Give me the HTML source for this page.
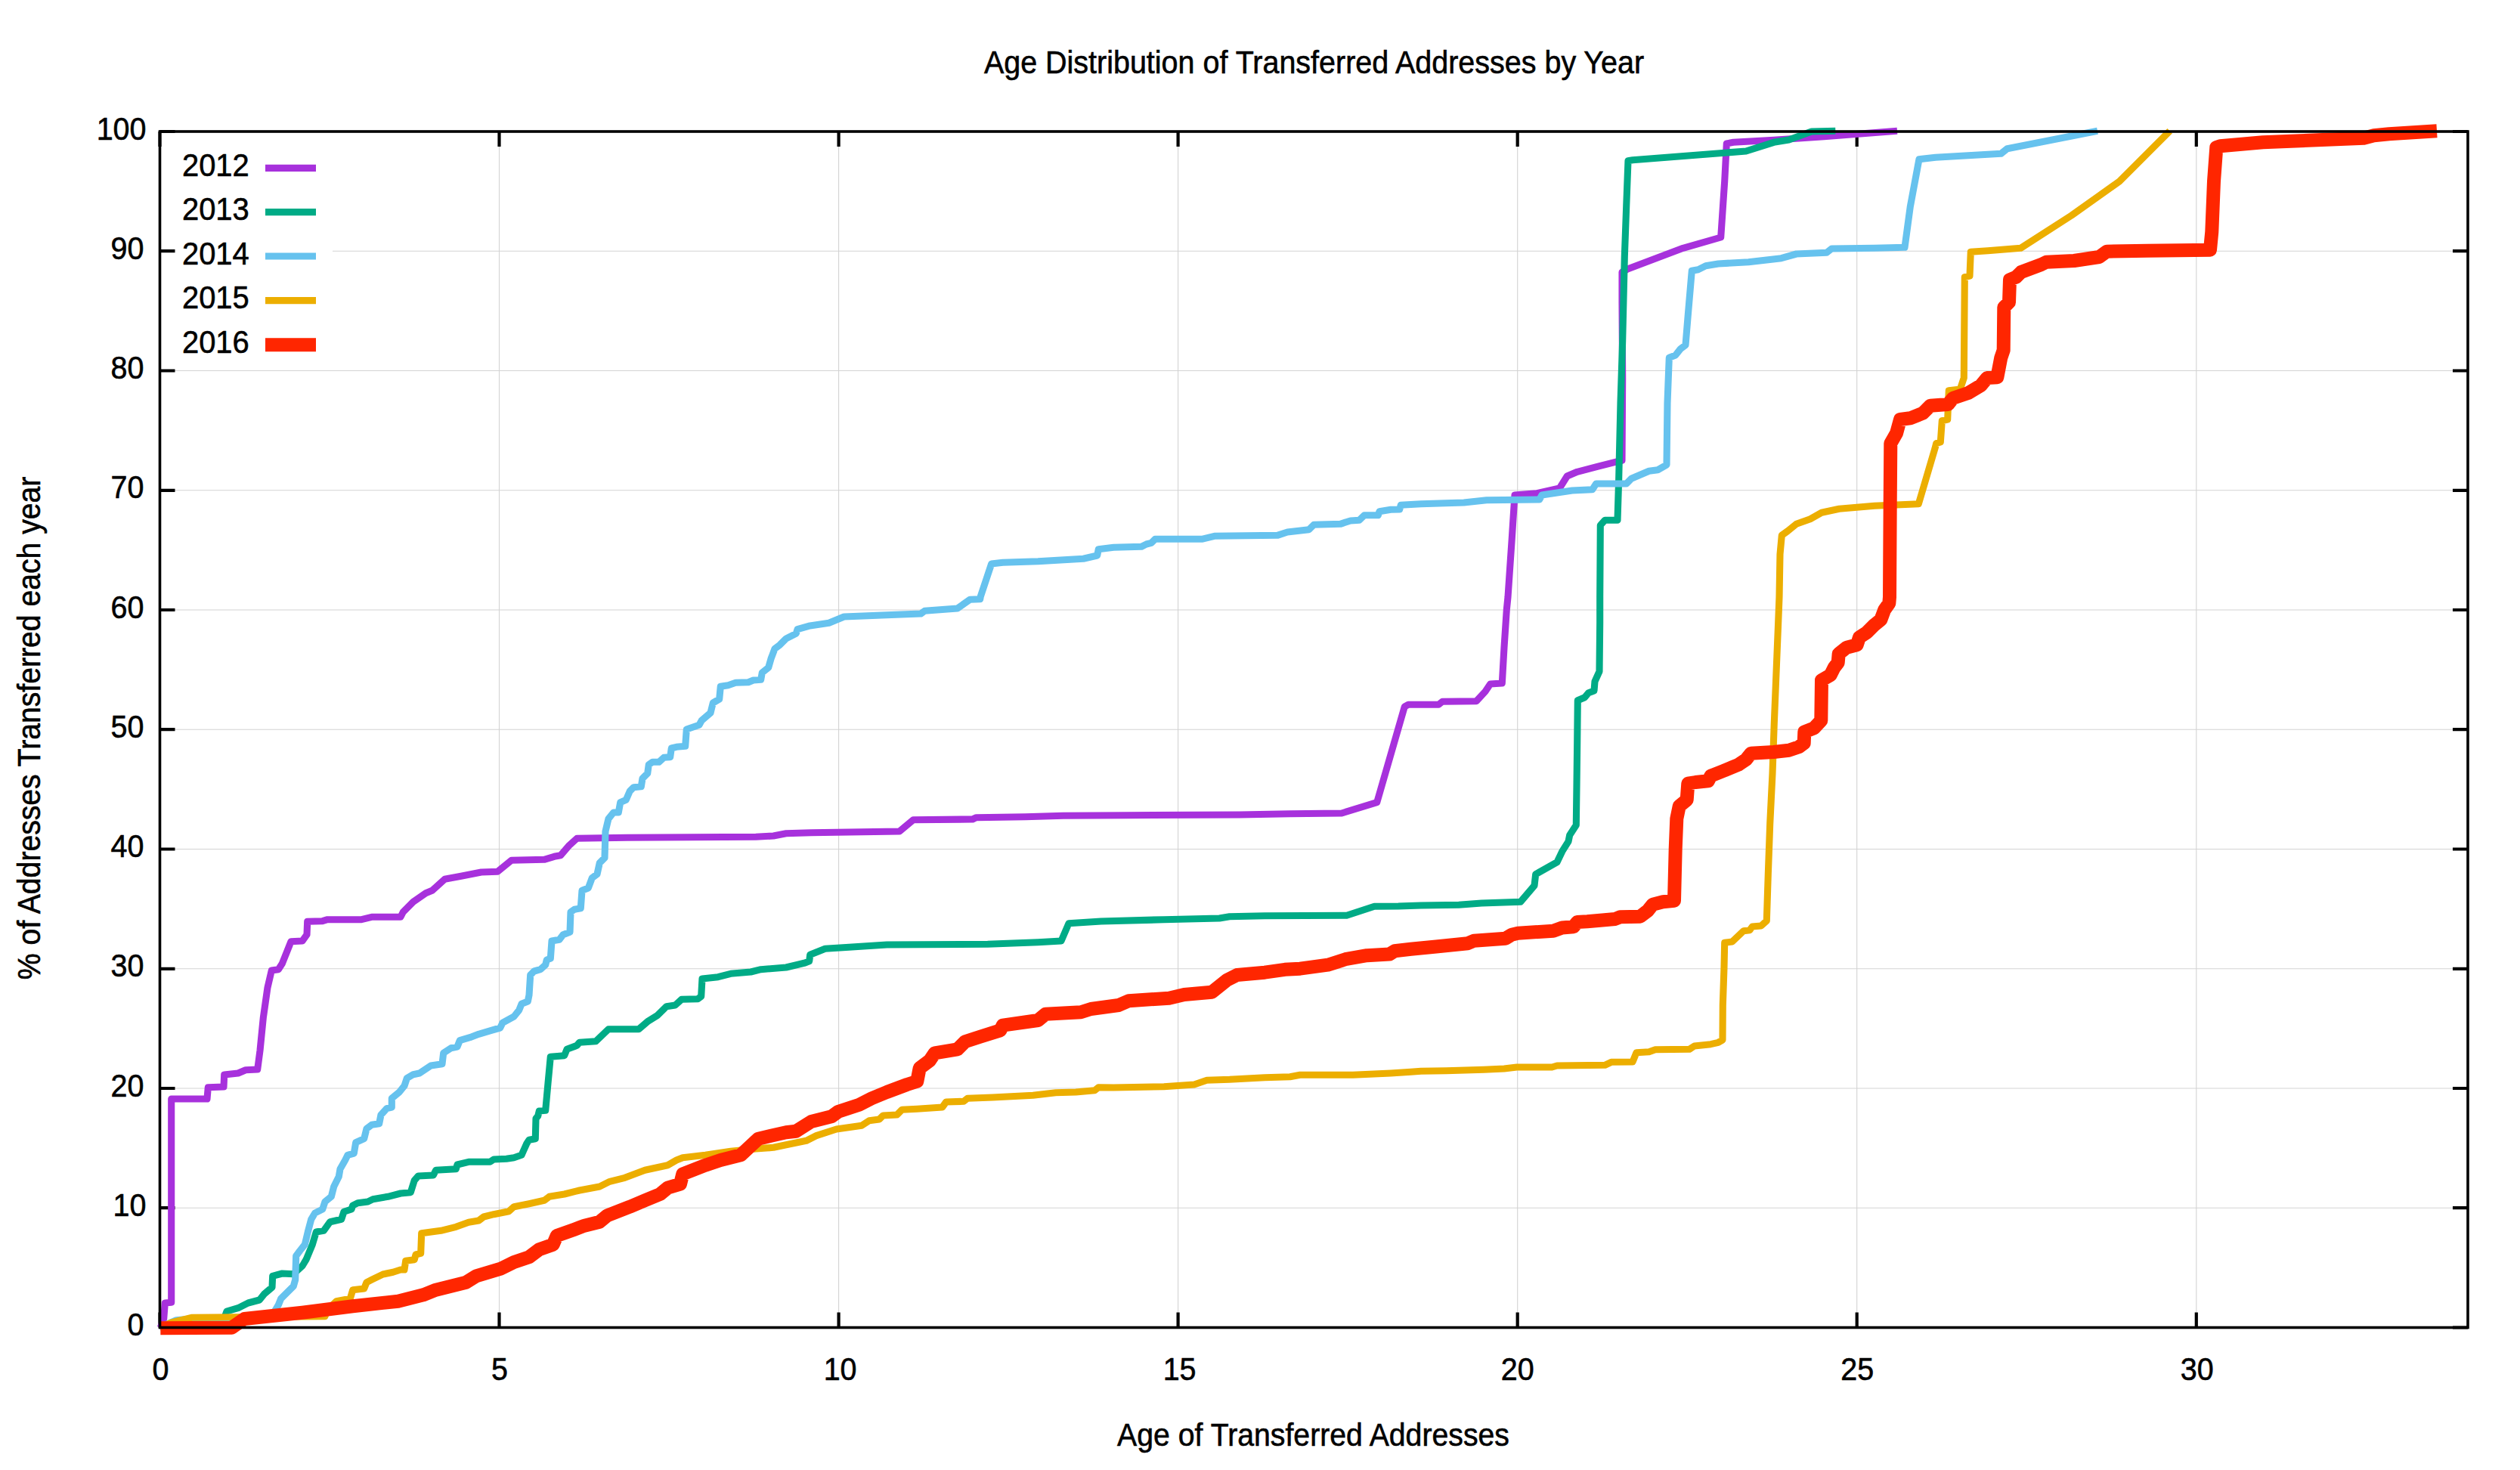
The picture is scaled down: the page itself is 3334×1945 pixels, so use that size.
<!DOCTYPE html><html><head><meta charset="utf-8"><title>Age Distribution of Transferred Addresses by Year</title>
<style>html,body{margin:0;padding:0;background:#fff}svg{display:block}text{font-family:"Liberation Sans",sans-serif;font-size:42px;fill:#000;stroke:#000;stroke-width:0.6px}</style></head><body>
<svg width="3334" height="1945" viewBox="0 0 3334 1945">
<rect width="3334" height="1945" fill="#fff"/>
<path d="M660.5 174.0V1756.5M1109.6 174.0V1756.5M1558.6 174.0V1756.5M2007.7 174.0V1756.5M2456.7 174.0V1756.5M2905.8 174.0V1756.5M211.5 1598.2H3265.0M211.5 1440.0H3265.0M211.5 1281.8H3265.0M211.5 1123.5H3265.0M211.5 965.2H3265.0M211.5 807.0H3265.0M211.5 648.8H3265.0M211.5 490.5H3265.0M211.5 332.2H3265.0" stroke="#d3d3d3" stroke-width="1.1" fill="none"/>
<rect x="211.5" y="174.0" width="228.5" height="306" fill="#fff"/>
<path d="M211.5 1756.5v-20M211.5 174.0v20M660.5 1756.5v-20M660.5 174.0v20M1109.6 1756.5v-20M1109.6 174.0v20M1558.6 1756.5v-20M1558.6 174.0v20M2007.7 1756.5v-20M2007.7 174.0v20M2456.7 1756.5v-20M2456.7 174.0v20M2905.8 1756.5v-20M2905.8 174.0v20M211.5 1756.5h20M3265.0 1756.5h-20M211.5 1598.2h20M3265.0 1598.2h-20M211.5 1440.0h20M3265.0 1440.0h-20M211.5 1281.8h20M3265.0 1281.8h-20M211.5 1123.5h20M3265.0 1123.5h-20M211.5 965.2h20M3265.0 965.2h-20M211.5 807.0h20M3265.0 807.0h-20M211.5 648.8h20M3265.0 648.8h-20M211.5 490.5h20M3265.0 490.5h-20M211.5 332.2h20M3265.0 332.2h-20M211.5 174.0h20M3265.0 174.0h-20" stroke="#000" stroke-width="4.2" fill="none"/>
<path d="M212.3 1756.7 L216.7 1745.0 L218.3 1724.0 L226.7 1723.3 L226.7 1454.0 L274.0 1454.0 L275.3 1438.7 L296.0 1438.0 L296.7 1422.0 L315.0 1420.0 L325.0 1415.7 L340.7 1415.0 L344.0 1390.0 L348.3 1346.7 L354.0 1306.7 L359.3 1284.0 L368.3 1282.7 L373.3 1275.0 L380.0 1258.3 L385.0 1245.7 L400.0 1245.0 L406.0 1236.7 L406.7 1219.3 L426.7 1218.7 L433.3 1216.7 L478.3 1216.7 L491.7 1213.3 L530.0 1213.3 L533.3 1206.7 L546.7 1193.3 L563.3 1181.7 L571.7 1178.3 L588.3 1163.3 L610.0 1159.3 L636.7 1154.0 L658.3 1153.3 L676.7 1138.3 L720.0 1137.3 L733.3 1133.3 L741.7 1131.7 L753.3 1118.3 L763.3 1109.3 L830.0 1108.3 L1000.0 1107.3 L1023.3 1106.0 L1040.0 1102.7 L1073.3 1101.7 L1123.3 1101.0 L1190.0 1100.0 L1208.3 1084.7 L1286.7 1084.0 L1291.7 1081.7 L1356.7 1080.7 L1406.7 1079.3 L1490.0 1078.7 L1640.0 1078.0 L1706.7 1076.7 L1775.0 1076.0 L1821.7 1061.7 L1858.3 935.0 L1863.3 932.3 L1880.0 932.3 L1903.3 932.3 L1908.3 928.3 L1953.3 927.7 L1965.0 915.0 L1971.7 905.0 L1987.3 904.0 L1990.0 856.7 L1993.3 806.7 L1995.0 790.0 L2000.0 716.7 L2004.0 655.0 L2033.3 652.7 L2063.3 646.0 L2073.3 630.0 L2086.7 624.3 L2113.3 617.3 L2140.0 610.7 L2146.0 609.3 L2146.7 500.0 L2146.0 400.0 L2146.0 360.0 L2153.3 356.0 L2226.7 328.3 L2276.7 314.0 L2281.7 240.0 L2284.3 190.0 L2293.3 188.3 L2346.7 185.3 L2413.3 180.7 L2510.0 173.3" stroke="#a731dc" stroke-width="9.1" fill="none" stroke-linejoin="round" stroke-linecap="butt"/>
<path d="M212.3 1756.0 L293.3 1753.3 L300.0 1735.0 L315.0 1730.7 L328.3 1724.0 L343.3 1720.0 L350.0 1711.7 L360.0 1703.3 L360.7 1688.3 L373.3 1685.0 L388.3 1685.7 L400.0 1675.0 L405.0 1666.7 L413.3 1646.7 L418.3 1630.0 L428.3 1628.3 L436.7 1616.7 L451.7 1613.3 L455.0 1603.3 L465.0 1600.0 L466.7 1595.0 L473.3 1591.7 L486.7 1590.0 L493.3 1586.7 L513.3 1583.3 L530.0 1579.0 L543.3 1577.7 L548.3 1561.7 L553.3 1556.0 L573.3 1555.0 L576.7 1548.3 L603.3 1546.7 L605.0 1541.0 L620.0 1537.3 L648.3 1537.3 L653.3 1534.0 L670.0 1533.3 L680.0 1531.7 L690.0 1528.3 L696.7 1513.3 L700.0 1508.3 L708.3 1506.7 L709.0 1480.0 L711.7 1476.7 L713.3 1470.0 L721.7 1469.3 L725.0 1433.3 L728.3 1398.3 L746.7 1396.7 L750.0 1388.3 L763.3 1383.3 L766.7 1379.3 L788.3 1377.7 L805.0 1361.7 L845.0 1361.7 L856.7 1351.7 L870.0 1343.3 L881.7 1331.7 L893.3 1330.0 L901.7 1322.3 L923.3 1321.7 L927.7 1318.3 L929.0 1295.0 L950.0 1292.7 L966.7 1288.3 L993.3 1286.0 L1006.7 1282.7 L1040.0 1280.0 L1065.0 1274.0 L1070.7 1271.7 L1071.7 1263.3 L1091.7 1255.3 L1123.3 1253.3 L1173.3 1250.0 L1306.7 1249.3 L1373.3 1246.7 L1404.0 1245.0 L1414.0 1221.7 L1456.7 1219.0 L1540.0 1216.7 L1613.3 1215.0 L1626.7 1212.7 L1673.3 1211.7 L1781.7 1211.3 L1818.3 1199.3 L1850.0 1199.0 L1880.0 1198.0 L1930.0 1197.3 L1960.0 1195.0 L2011.7 1193.3 L2030.0 1171.7 L2031.7 1156.7 L2060.0 1140.7 L2066.7 1126.7 L2075.0 1113.3 L2076.7 1105.0 L2085.3 1091.7 L2086.0 1040.0 L2086.7 983.3 L2087.3 926.7 L2096.7 922.7 L2101.7 916.7 L2109.0 914.0 L2110.0 901.7 L2116.0 888.3 L2116.7 823.3 L2116.7 790.0 L2117.3 695.0 L2123.3 688.3 L2140.0 688.3 L2141.7 633.3 L2144.0 533.3 L2146.7 450.0 L2149.3 340.0 L2151.7 273.3 L2154.0 212.7 L2160.0 211.7 L2310.0 200.0 L2346.7 188.3 L2366.7 185.0 L2396.7 174.0 L2428.3 173.3" stroke="#00ab86" stroke-width="9.1" fill="none" stroke-linejoin="round" stroke-linecap="butt"/>
<path d="M212.3 1756.0 L233.3 1746.7 L250.0 1745.3 L356.7 1741.7 L363.3 1735.0 L368.3 1726.7 L371.7 1718.3 L380.0 1710.0 L388.3 1701.7 L390.7 1693.3 L391.7 1661.7 L396.7 1655.0 L403.3 1646.7 L407.3 1630.0 L411.7 1613.3 L416.7 1605.0 L426.7 1600.0 L430.0 1590.0 L438.3 1583.3 L441.7 1570.0 L448.3 1556.7 L450.0 1546.7 L456.7 1535.0 L460.0 1528.3 L468.3 1526.0 L470.7 1511.7 L481.7 1506.7 L485.0 1493.3 L491.7 1488.3 L501.7 1486.7 L504.0 1475.0 L511.7 1466.7 L518.3 1465.0 L518.3 1453.3 L528.3 1445.0 L535.0 1436.7 L538.3 1426.7 L546.7 1421.7 L555.0 1420.0 L570.0 1410.0 L585.0 1407.7 L586.7 1393.3 L596.7 1386.7 L605.0 1385.0 L608.3 1376.7 L621.7 1372.7 L633.3 1368.3 L650.0 1363.3 L661.7 1360.0 L665.0 1353.3 L680.0 1345.0 L686.7 1336.7 L690.0 1328.3 L698.3 1325.0 L700.0 1316.7 L701.7 1290.0 L706.7 1285.0 L715.0 1282.7 L721.7 1276.7 L723.3 1270.0 L728.3 1268.3 L730.0 1245.0 L740.0 1243.3 L745.0 1236.7 L754.0 1233.3 L755.0 1206.7 L760.0 1203.3 L768.3 1201.7 L770.0 1178.3 L778.3 1175.0 L783.3 1161.7 L790.0 1156.7 L793.3 1141.7 L800.0 1135.0 L801.0 1100.0 L805.0 1083.3 L811.7 1075.0 L818.3 1075.0 L820.7 1061.7 L828.3 1058.3 L833.3 1046.7 L838.3 1041.7 L848.3 1040.7 L850.0 1030.0 L856.7 1023.3 L858.3 1011.7 L863.3 1008.3 L871.7 1008.3 L878.3 1002.3 L886.7 1001.7 L888.3 990.0 L895.0 988.3 L906.7 987.3 L908.3 965.0 L925.0 959.3 L928.3 953.3 L940.0 943.3 L943.3 930.0 L951.7 925.0 L953.3 908.3 L963.3 906.7 L973.3 903.3 L990.0 902.7 L996.7 900.0 L1006.7 899.3 L1008.3 890.0 L1016.7 883.3 L1020.0 871.7 L1025.0 858.3 L1031.7 853.3 L1040.0 845.0 L1053.3 838.3 L1055.0 832.7 L1070.0 828.3 L1096.7 824.3 L1116.7 816.0 L1166.7 814.0 L1218.3 812.0 L1223.3 808.3 L1266.7 805.0 L1283.3 793.3 L1296.7 792.7 L1297.3 789.3 L1311.7 746.0 L1326.7 744.3 L1373.3 742.7 L1433.3 739.3 L1451.7 735.0 L1453.3 726.7 L1473.3 724.3 L1510.0 723.3 L1516.7 720.0 L1523.3 718.3 L1528.3 713.3 L1590.0 713.3 L1606.7 709.3 L1690.0 708.3 L1703.3 704.0 L1731.7 700.7 L1738.3 694.3 L1773.3 693.3 L1786.7 689.0 L1798.3 688.3 L1805.0 681.7 L1823.3 681.7 L1825.0 676.7 L1840.0 674.3 L1851.7 674.0 L1853.3 668.3 L1880.0 666.7 L1936.7 665.0 L1966.7 661.7 L2036.7 661.0 L2040.0 655.0 L2080.0 649.0 L2106.7 647.7 L2111.7 640.0 L2151.7 640.0 L2158.3 633.3 L2181.7 623.3 L2193.3 621.7 L2205.0 615.0 L2206.0 533.3 L2208.3 473.3 L2216.7 470.0 L2223.3 461.7 L2230.0 456.7 L2233.3 416.7 L2238.3 358.3 L2246.7 356.7 L2256.7 351.7 L2273.3 349.0 L2313.3 346.7 L2356.7 341.7 L2376.7 336.0 L2416.7 334.3 L2423.3 329.0 L2480.0 328.3 L2520.0 327.3 L2527.3 273.3 L2539.0 210.7 L2560.7 208.3 L2647.3 203.3 L2655.7 196.7 L2775.0 173.3" stroke="#66c2ee" stroke-width="9.1" fill="none" stroke-linejoin="round" stroke-linecap="butt"/>
<path d="M212.3 1756.0 L226.7 1750.0 L253.3 1743.3 L313.3 1742.7 L430.0 1741.7 L433.3 1733.3 L445.0 1721.7 L463.3 1718.3 L466.7 1706.7 L481.7 1705.0 L485.0 1696.7 L491.7 1693.3 L506.7 1686.0 L520.0 1683.3 L530.0 1680.0 L535.0 1680.0 L536.7 1668.3 L548.3 1666.7 L550.0 1660.0 L556.7 1658.3 L557.7 1631.7 L583.3 1628.3 L603.3 1623.3 L620.0 1617.3 L633.3 1615.0 L640.0 1610.0 L653.3 1606.7 L673.3 1602.7 L680.0 1596.7 L700.0 1592.7 L720.0 1588.3 L726.7 1583.3 L746.7 1580.0 L766.7 1575.0 L793.3 1570.0 L806.7 1563.3 L826.7 1558.3 L853.3 1548.3 L883.3 1541.7 L895.0 1535.0 L903.3 1531.7 L933.3 1528.3 L966.7 1523.3 L1000.0 1520.0 L1023.3 1518.3 L1040.0 1514.7 L1066.7 1509.3 L1080.0 1502.7 L1106.7 1494.0 L1140.0 1489.3 L1150.0 1482.7 L1163.3 1481.0 L1168.3 1476.0 L1186.7 1475.0 L1193.3 1468.3 L1213.3 1467.3 L1246.7 1465.0 L1251.7 1458.0 L1275.0 1457.3 L1280.0 1453.3 L1313.3 1452.0 L1366.7 1449.3 L1396.7 1445.7 L1423.3 1445.0 L1448.3 1442.7 L1453.3 1438.7 L1473.3 1439.0 L1540.0 1437.7 L1580.0 1435.0 L1596.7 1429.3 L1626.7 1428.3 L1673.3 1425.7 L1706.7 1424.7 L1720.0 1422.3 L1790.0 1422.3 L1840.0 1420.0 L1866.7 1418.3 L1880.0 1417.3 L1913.3 1416.7 L1963.3 1415.3 L1990.0 1414.0 L2006.7 1412.0 L2053.3 1412.0 L2060.0 1410.0 L2123.3 1409.3 L2131.7 1405.3 L2160.0 1405.0 L2165.0 1392.7 L2181.7 1391.7 L2190.0 1388.7 L2235.0 1388.3 L2241.7 1384.0 L2263.3 1381.7 L2273.3 1379.3 L2279.0 1376.0 L2279.3 1330.0 L2281.0 1280.0 L2281.7 1247.3 L2291.7 1246.0 L2306.7 1231.7 L2315.0 1230.7 L2318.3 1226.0 L2330.0 1225.0 L2337.3 1218.3 L2339.3 1156.7 L2341.7 1090.0 L2345.0 1023.3 L2347.3 956.7 L2350.0 890.0 L2352.7 823.3 L2354.0 790.0 L2355.0 733.3 L2357.3 708.3 L2365.0 702.7 L2376.7 693.3 L2395.0 686.7 L2410.0 678.3 L2433.3 673.3 L2480.0 669.3 L2538.3 666.7 L2560.0 593.3 L2561.7 586.7 L2567.3 585.0 L2569.3 556.7 L2576.7 555.0 L2578.3 516.7 L2593.3 515.0 L2598.3 500.0 L2599.3 366.7 L2606.0 365.0 L2607.3 333.3 L2630.0 331.7 L2673.3 328.3 L2740.7 285.0 L2804.0 240.0 L2870.7 173.3" stroke="#ecae00" stroke-width="9.1" fill="none" stroke-linejoin="round" stroke-linecap="butt"/>
<path d="M212.3 1757.3 L306.7 1756.7 L323.3 1745.0 L400.0 1736.7 L466.7 1728.3 L526.7 1721.7 L560.0 1713.3 L576.7 1706.7 L616.7 1696.7 L630.0 1688.3 L663.3 1678.3 L680.0 1670.0 L700.0 1663.3 L713.3 1653.3 L731.7 1646.7 L736.7 1635.0 L760.0 1626.7 L773.3 1621.7 L793.3 1616.7 L803.3 1608.3 L833.3 1596.7 L853.3 1588.3 L873.3 1580.0 L883.3 1571.7 L900.0 1566.7 L903.3 1553.3 L933.3 1541.7 L953.3 1535.0 L980.0 1528.3 L1003.3 1506.7 L1020.0 1502.7 L1040.0 1498.3 L1053.3 1496.7 L1073.3 1484.0 L1100.0 1477.3 L1109.3 1470.7 L1136.7 1461.7 L1153.3 1453.3 L1173.3 1445.0 L1200.0 1435.0 L1213.3 1430.7 L1216.7 1413.3 L1230.0 1403.3 L1236.7 1393.3 L1266.7 1388.3 L1276.7 1378.3 L1296.7 1371.7 L1323.3 1363.3 L1326.7 1356.7 L1373.3 1350.0 L1383.3 1341.7 L1430.0 1339.3 L1443.3 1335.0 L1480.0 1330.0 L1493.3 1324.3 L1546.7 1320.7 L1566.7 1316.0 L1603.3 1312.7 L1623.3 1296.7 L1636.7 1290.0 L1673.3 1286.7 L1700.0 1282.8 L1720.0 1281.7 L1756.7 1276.7 L1780.0 1269.2 L1808.3 1264.2 L1838.3 1262.5 L1845.0 1258.3 L1866.7 1255.8 L1900.0 1252.5 L1941.7 1248.3 L1950.0 1244.7 L1991.7 1241.7 L2000.0 1236.7 L2008.3 1234.7 L2055.0 1231.7 L2066.7 1227.5 L2081.7 1226.3 L2086.7 1220.0 L2100.0 1219.2 L2120.0 1217.5 L2136.7 1216.0 L2143.3 1213.3 L2170.0 1212.7 L2180.0 1205.0 L2186.7 1196.7 L2200.0 1193.3 L2215.0 1191.7 L2216.7 1123.3 L2218.3 1083.3 L2221.7 1066.7 L2231.7 1058.3 L2233.3 1036.7 L2243.3 1035.0 L2260.0 1033.3 L2263.3 1026.7 L2280.0 1020.0 L2300.0 1011.7 L2310.0 1005.0 L2316.7 996.7 L2346.7 995.0 L2366.7 992.7 L2380.0 988.3 L2386.7 983.3 L2387.3 968.3 L2400.0 963.3 L2409.3 953.3 L2410.0 900.0 L2421.7 893.3 L2426.7 883.3 L2431.7 876.7 L2432.7 865.0 L2443.3 856.7 L2456.7 853.3 L2460.0 843.3 L2470.0 836.7 L2480.0 826.7 L2488.3 820.0 L2493.3 806.7 L2499.3 798.3 L2500.0 790.0 L2500.7 666.7 L2501.3 586.7 L2509.0 573.3 L2514.0 555.0 L2527.3 553.3 L2544.0 546.7 L2554.0 536.7 L2577.3 535.0 L2584.0 526.7 L2604.0 520.0 L2620.7 510.0 L2629.0 500.0 L2642.3 499.3 L2647.3 473.3 L2650.7 463.3 L2651.3 406.7 L2658.0 400.0 L2659.0 370.0 L2667.3 366.7 L2674.0 360.0 L2700.7 350.0 L2707.3 346.7 L2744.0 345.0 L2777.3 340.0 L2787.3 332.7 L2840.7 331.7 L2924.0 330.7 L2926.3 306.7 L2929.0 240.0 L2932.3 195.0 L2937.3 193.3 L2994.0 188.3 L3127.3 182.7 L3140.7 179.3 L3160.7 177.3 L3224.0 173.3" stroke="#ff2600" stroke-width="18" fill="none" stroke-linejoin="round" stroke-linecap="butt"/>
<rect x="211.5" y="174.0" width="3053.5" height="1582.5" fill="none" stroke="#000" stroke-width="3.6"/>
<text transform="translate(241,232.9) scale(0.95,1)">2012</text>
<line x1="351" x2="418" y1="222.4" y2="222.4" stroke="#a731dc" stroke-width="9.1"/>
<text transform="translate(241,291.1) scale(0.95,1)">2013</text>
<line x1="351" x2="418" y1="280.6" y2="280.6" stroke="#00ab86" stroke-width="9.1"/>
<text transform="translate(241,349.5) scale(0.95,1)">2014</text>
<line x1="351" x2="418" y1="339.0" y2="339.0" stroke="#66c2ee" stroke-width="9.1"/>
<text transform="translate(241,408.1) scale(0.95,1)">2015</text>
<line x1="351" x2="418" y1="397.6" y2="397.6" stroke="#ecae00" stroke-width="9.1"/>
<text transform="translate(241,466.7) scale(0.95,1)">2016</text>
<line x1="351" x2="418" y1="456.2" y2="456.2" stroke="#ff2600" stroke-width="18"/>
<text transform="translate(212.5,1825.5) scale(0.94,1)" text-anchor="middle">0</text>
<text transform="translate(661.0,1825.5) scale(0.94,1)" text-anchor="middle">5</text>
<text transform="translate(1111.6,1825.5) scale(0.94,1)" text-anchor="middle">10</text>
<text transform="translate(1560.6,1825.5) scale(0.94,1)" text-anchor="middle">15</text>
<text transform="translate(2007.7,1825.5) scale(0.94,1)" text-anchor="middle">20</text>
<text transform="translate(2457.2,1825.5) scale(0.94,1)" text-anchor="middle">25</text>
<text transform="translate(2906.8,1825.5) scale(0.94,1)" text-anchor="middle">30</text>
<text transform="translate(190.5,1767.0) scale(0.94,1)" text-anchor="end">0</text>
<text transform="translate(193.5,1608.8) scale(0.94,1)" text-anchor="end">10</text>
<text transform="translate(190.5,1450.5) scale(0.94,1)" text-anchor="end">20</text>
<text transform="translate(190.5,1292.2) scale(0.94,1)" text-anchor="end">30</text>
<text transform="translate(190.5,1134.0) scale(0.94,1)" text-anchor="end">40</text>
<text transform="translate(190.5,975.8) scale(0.94,1)" text-anchor="end">50</text>
<text transform="translate(190.5,817.5) scale(0.94,1)" text-anchor="end">60</text>
<text transform="translate(190.5,659.2) scale(0.94,1)" text-anchor="end">70</text>
<text transform="translate(190.5,501.0) scale(0.94,1)" text-anchor="end">80</text>
<text transform="translate(190.5,342.8) scale(0.94,1)" text-anchor="end">90</text>
<text transform="translate(193.5,184.5) scale(0.94,1)" text-anchor="end">100</text>
<text transform="translate(1738.5,97) scale(0.94,1)" text-anchor="middle">Age Distribution of Transferred Addresses by Year</text>
<text transform="translate(1737.5,1912.5) scale(0.934,1)" text-anchor="middle">Age of Transferred Addresses</text>
<text transform="translate(52.8,963.5) rotate(-90) scale(0.932,1)" text-anchor="middle">% of Addresses Transferred each year</text>
</svg></body></html>
